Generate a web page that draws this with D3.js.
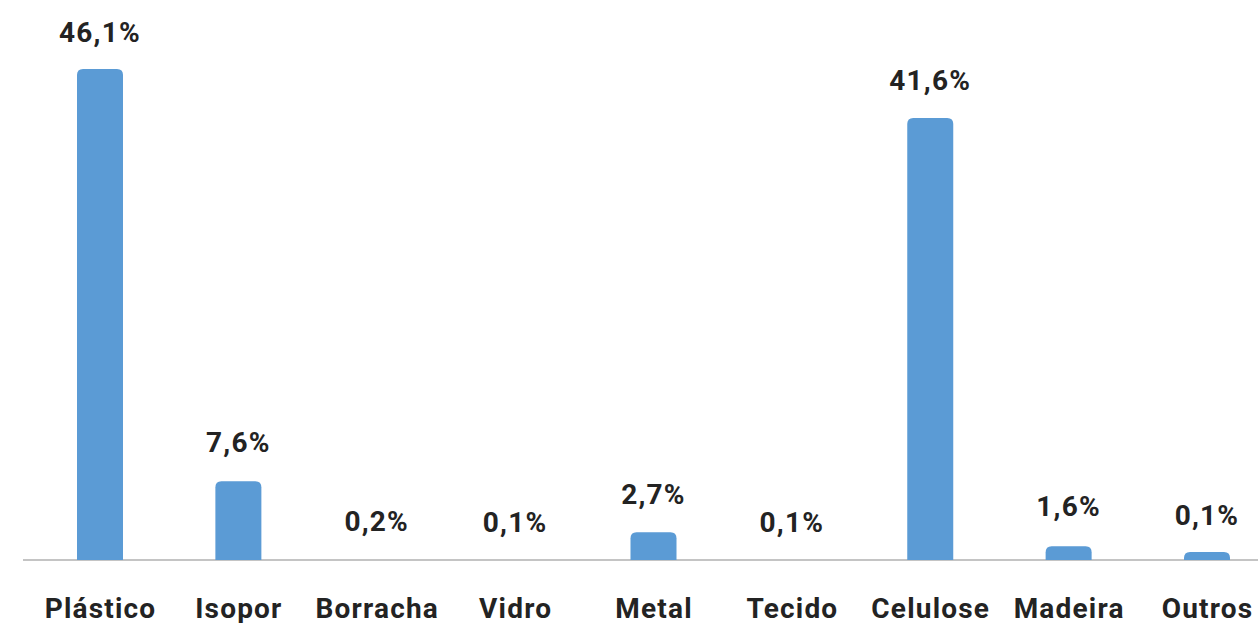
<!DOCTYPE html>
<html>
<head>
<meta charset="utf-8">
<script src="https://cdn.jsdelivr.net/npm/d3@7"></script>
<style>
  html, body { margin: 0; padding: 0; background: #ffffff; }
  svg { display: block; }
  text { font-family: Roboto, "Noto Sans", sans-serif; font-weight: 700; fill: #232323; letter-spacing: 1.2px; }
</style>
</head>
<body>
<svg id="chart" width="1258" height="623"></svg>
<script>
// Categories (x axis)
const categories = ["Plástico", "Isopor", "Borracha", "Vidro", "Metal", "Tecido", "Celulose", "Madeira", "Outros"];
// Percentages shown on the labels
const labelValues = [46.1, 7.6, 0.2, 0.1, 2.7, 0.1, 41.6, 1.6, 0.1];
// Bar heights as drawn in the picture (in %)
const barValues = [46.1, 7.4, 0, 0, 2.6, 0, 41.5, 1.3, 0.75];

const W = 1258, H = 623;
const svg = d3.select("#chart");

const x = d3.scalePoint().domain(categories).range([100, 1207]);
const y = d3.scaleLinear().domain([0, 46.1]).range([560, 69]);
const barW = 46;
const fmt = v => d3.format(".1f")(v).replace(".", ",") + "%";

// baseline
svg.append("line")
  .attr("x1", 23).attr("x2", W)
  .attr("y1", y(0)).attr("y2", y(0))
  .attr("stroke", "#c4c4c4").attr("stroke-width", 2);

// bars with rounded top corners
function barPath(cx, v) {
  const x0 = cx - barW / 2, x1 = cx + barW / 2;
  const yb = y(0), yt = y(v);
  const h = yb - yt;
  const r = Math.min(6, h);
  return `M${x0},${yb}V${yt + r}Q${x0},${yt} ${x0 + r},${yt}H${x1 - r}Q${x1},${yt} ${x1},${yt + r}V${yb}Z`;
}

svg.append("g").selectAll("path")
  .data(categories.map((c, i) => ({c, v: barValues[i]})).filter(d => d.v > 0))
  .join("path")
  .attr("d", d => barPath(x(d.c), d.v))
  .attr("fill", "#5b9bd5");

// value labels
svg.append("g").selectAll("text")
  .data(categories.map((c, i) => ({c, v: labelValues[i], b: barValues[i]})))
  .join("text")
  .attr("x", d => x(d.c))
  .attr("y", d => Math.min(y(d.v), y(d.b)) - 27)
  .attr("text-anchor", "middle")
  .attr("font-size", 28)
  .text(d => fmt(d.v));

// category labels
const xAxis = svg.append("g").attr("transform", `translate(0,${y(0)})`)
  .call(d3.axisBottom(x).tickSize(0).tickPadding(0));
xAxis.select(".domain").remove();
xAxis.selectAll("text")
  .attr("y", 58)
  .attr("dy", 0)
  .attr("font-size", 28)
  .attr("font-family", null)
  .style("font-family", "Roboto, 'Noto Sans', sans-serif")
  .style("font-weight", 700)
  .style("letter-spacing", "1.2px")
  .attr("fill", "#232323");
</script>
</body>
</html>
